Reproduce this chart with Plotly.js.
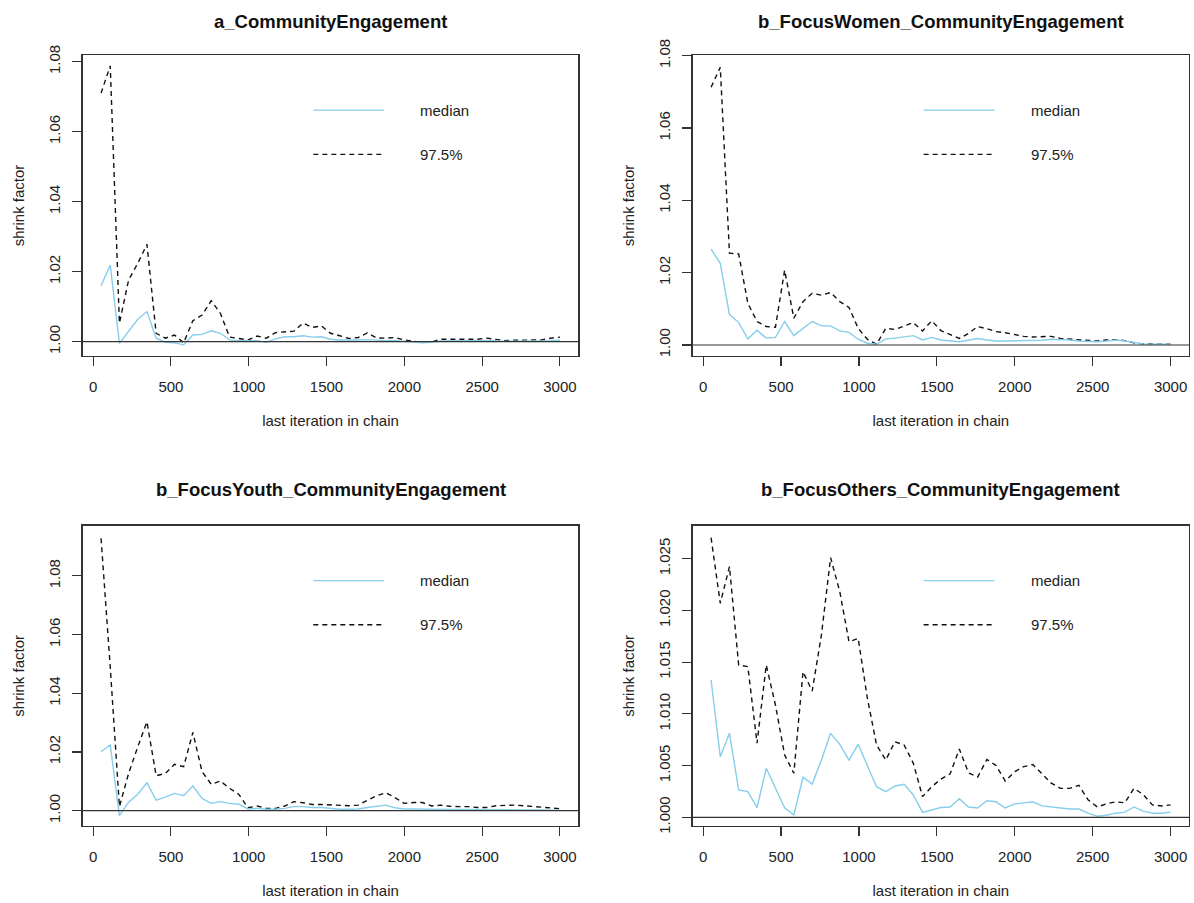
<!DOCTYPE html>
<html>
<head>
<meta charset="utf-8">
<script src="https://cdn.plot.ly/plotly-3.0.1.min.js"></script>
<style>html,body{margin:0;padding:0;background:#fff;}#chart{width:1194px;height:903px;}</style>
</head>
<body>
<div id="chart"></div>
<script>
const iterations = [51,110,169,228,287,346,405,464,523,582,641,700,759,818,877,936,995,1054,1113,1172,1231,1290,1349,1408,1467,1526,1585,1644,1703,1762,1821,1880,1939,1998,2057,2116,2175,2234,2293,2352,2411,2470,2529,2588,2647,2706,2765,2824,2883,2942,3000];

const panelTitles = ["a_CommunityEngagement","b_FocusWomen_CommunityEngagement","b_FocusYouth_CommunityEngagement","b_FocusOthers_CommunityEngagement"];
const legendLabels = ["median","97.5%"];
const xTickVals = [0,500,1000,1500,2000,2500,3000];
const yTicksWide = [1.00,1.02,1.04,1.06,1.08];
const yTicksNarrow = [1.000,1.005,1.010,1.015,1.020,1.025];

const medianA = [1.0160,1.0219,0.9995,1.0029,1.0064,1.0086,1.0010,0.9998,0.9997,0.9991,1.0019,1.0021,1.0031,1.0024,1.0005,1.0003,1.0003,1.0003,0.9998,1.0008,1.0014,1.0014,1.0017,1.0013,1.0014,1.0007,1.0005,1.0004,1.0005,1.0006,1.0004,1.0003,1.0003,1.0000,0.9999,0.9997,0.9998,1.0002,1.0003,1.0003,1.0003,1.0003,1.0004,1.0003,1.0001,1.0001,1.0001,1.0001,1.0002,1.0003,1.0004];
const upperA = [1.0710,1.0788,1.0053,1.0176,1.0224,1.0278,1.0024,1.0010,1.0019,0.9997,1.0060,1.0076,1.0117,1.0081,1.0013,1.0010,1.0005,1.0016,1.0010,1.0026,1.0027,1.0030,1.0053,1.0041,1.0045,1.0024,1.0017,1.0009,1.0012,1.0025,1.0011,1.0010,1.0012,1.0005,1.0001,0.9998,0.9999,1.0007,1.0007,1.0007,1.0008,1.0007,1.0010,1.0007,1.0003,1.0004,1.0004,1.0004,1.0005,1.0010,1.0013];

const medianWomen = [1.0265,1.0226,1.0085,1.0062,1.0017,1.0041,1.0019,1.0021,1.0065,1.0026,1.0046,1.0065,1.0053,1.0053,1.0039,1.0035,1.0016,1.0005,1.0002,1.0017,1.0019,1.0023,1.0026,1.0014,1.0021,1.0014,1.0011,1.0009,1.0013,1.0018,1.0014,1.0011,1.0011,1.0011,1.0011,1.0011,1.0013,1.0016,1.0016,1.0014,1.0011,1.0009,1.0009,1.0011,1.0014,1.0011,1.0007,1.0003,1.0002,1.0002,1.0002];
const upperWomen = [1.0713,1.0768,1.0254,1.0252,1.0115,1.0065,1.0051,1.0049,1.0207,1.0074,1.0120,1.0143,1.0138,1.0145,1.0120,1.0104,1.0046,1.0016,1.0002,1.0046,1.0043,1.0053,1.0062,1.0039,1.0067,1.0040,1.0028,1.0018,1.0032,1.0051,1.0045,1.0037,1.0034,1.0028,1.0024,1.0022,1.0023,1.0024,1.0018,1.0016,1.0014,1.0011,1.0011,1.0014,1.0015,1.0012,1.0006,1.0003,1.0002,1.0002,1.0002];

const medianYouth = [1.0201,1.0224,0.9983,1.0029,1.0056,1.0095,1.0036,1.0046,1.0059,1.0051,1.0085,1.0042,1.0025,1.0031,1.0025,1.0022,1.0006,1.0008,1.0005,1.0005,1.0008,1.0014,1.0014,1.0011,1.0011,1.0008,1.0005,1.0005,1.0006,1.0011,1.0016,1.0019,1.0010,1.0006,1.0006,1.0005,1.0005,1.0005,1.0004,1.0004,1.0004,1.0003,1.0003,1.0004,1.0005,1.0005,1.0004,1.0003,1.0003,1.0002,1.0002];
const upperYouth = [1.0928,1.0490,1.0014,1.0127,1.0218,1.0303,1.0119,1.0127,1.0158,1.0150,1.0267,1.0133,1.0090,1.0101,1.0076,1.0056,1.0010,1.0016,1.0008,1.0008,1.0016,1.0031,1.0027,1.0021,1.0021,1.0020,1.0019,1.0017,1.0019,1.0034,1.0051,1.0061,1.0045,1.0025,1.0028,1.0028,1.0016,1.0019,1.0015,1.0014,1.0014,1.0011,1.0011,1.0017,1.0019,1.0019,1.0017,1.0014,1.0011,1.0010,1.0007];

const medianOthers = [1.01328,1.00586,1.00812,1.00264,1.00248,1.00093,1.00474,1.00280,1.00093,1.00022,1.00387,1.00322,1.00554,1.00812,1.00706,1.00554,1.00706,1.00499,1.00296,1.00248,1.00303,1.00319,1.00216,1.00048,1.00070,1.00095,1.00100,1.00180,1.00100,1.00090,1.00160,1.00150,1.00090,1.00130,1.00140,1.00150,1.00110,1.00100,1.00090,1.00080,1.00080,1.00040,1.00010,1.00020,1.00040,1.00050,1.00100,1.00060,1.00040,1.00040,1.00050];
const upperOthers = [1.02704,1.02070,1.02424,1.01473,1.01457,1.00716,1.01473,1.01086,1.00603,1.00426,1.01408,1.01221,1.01763,1.02511,1.02182,1.01698,1.01731,1.01151,1.00699,1.00554,1.00731,1.00699,1.00522,1.00200,1.00296,1.00370,1.00420,1.00660,1.00430,1.00390,1.00560,1.00500,1.00350,1.00440,1.00490,1.00510,1.00420,1.00330,1.00280,1.00280,1.00310,1.00170,1.00100,1.00130,1.00150,1.00140,1.00280,1.00220,1.00120,1.00110,1.00120];

const panels = [
  {med: medianA, up: upperA, yr: [0.99591, 1.0819], ticks: yTicksWide, fmt: ".2f"},
  {med: medianWomen, up: upperWomen, yr: [0.99696, 1.0802], ticks: yTicksWide, fmt: ".2f"},
  {med: medianYouth, up: upperYouth, yr: [0.99479, 1.0971], ticks: yTicksWide, fmt: ".2f"},
  {med: medianOthers, up: upperOthers, yr: [0.99916, 1.0282], ticks: yTicksNarrow, fmt: ".3f"}
];

const W = 1194, H = 903;
const colL = [82.7/W, 578.3/W], colR = [692.7/W, 1189/W];
const rowT = [1-356/H, 1-55/H], rowB = [1-826/H, 1-525.7/H];
const doms = [[colL,rowT],[colR,rowT],[colL,rowB],[colR,rowB]];
const titleY = [1-21/H, 1-21/H, 1-490/H, 1-490/H];

const FONT = "Liberation Sans, Arial, Helvetica, sans-serif";
const medColor = "#87CEEB";
const traces = [], shapes = [], annotations = [];
const layout = {
  width: W, height: H, autosize: false,
  margin: {l:0, r:0, t:0, b:0},
  paper_bgcolor: "#fff", plot_bgcolor: "#fff",
  showlegend: false,
  font: {family: FONT, size: 15, color: "#222"}
};

panels.forEach((p, i) => {
  const n = i === 0 ? "" : String(i+1);
  const xa = "x"+n, ya = "y"+n;
  traces.push({x: iterations, y: p.up, xaxis: xa, yaxis: ya, type: "scatter", mode: "lines",
    name: legendLabels[1], line: {color: "#111", width: 1.4, dash: "5px,4px"}});
  traces.push({x: iterations, y: p.med, xaxis: xa, yaxis: ya, type: "scatter", mode: "lines",
    name: legendLabels[0], line: {color: medColor, width: 1.4}});
  const axCommon = {showgrid: false, zeroline: false, showline: true, mirror: true,
    linecolor: "#333", linewidth: 1.3, ticks: "outside", ticklen: 9, tickwidth: 1.1, tickcolor: "#333",
    tickfont: {family: FONT, size: 15, color: "#222"}, fixedrange: true};
  layout["xaxis"+n] = Object.assign({}, axCommon, {
    domain: doms[i][0], anchor: ya, range: [-66.96, 3117.96],
    tickmode: "array", tickvals: xTickVals, ticklabelstandoff: 8,
    title: {text: "last iteration in chain", font: {family: FONT, size: 15, color: "#222"}, standoff: 21}
  });
  layout["yaxis"+n] = Object.assign({}, axCommon, {
    domain: doms[i][1], anchor: xa, range: p.yr,
    tickmode: "array", tickvals: p.ticks, tickformat: p.fmt, tickangle: -90, ticklabelstandoff: 6,
    title: {text: "shrink factor", font: {family: FONT, size: 15, color: "#222"}, standoff: 18}
  });
  shapes.push({type: "line", xref: xa+" domain", yref: ya, x0: 0, x1: 1, y0: 1, y1: 1,
    line: {color: "#333", width: 1.2}});
  shapes.push({type: "line", xref: xa+" domain", yref: ya+" domain", x0: 0.4653, x1: 0.608, y0: 0.817, y1: 0.817,
    line: {color: medColor, width: 1.4}});
  shapes.push({type: "line", xref: xa+" domain", yref: ya+" domain", x0: 0.4653, x1: 0.608, y0: 0.670, y1: 0.670,
    line: {color: "#111", width: 1.4, dash: "5px,4px"}});
  annotations.push({xref: xa+" domain", yref: ya+" domain", x: 0.677, y: 0.817, xanchor: "left", yanchor: "middle",
    text: legendLabels[0], showarrow: false, font: {family: FONT, size: 15, color: "#222"}});
  annotations.push({xref: xa+" domain", yref: ya+" domain", x: 0.677, y: 0.670, xanchor: "left", yanchor: "middle",
    text: legendLabels[1], showarrow: false, font: {family: FONT, size: 15, color: "#222"}});
  annotations.push({xref: xa+" domain", yref: "paper", x: 0.5, y: titleY[i], xanchor: "center", yanchor: "middle",
    text: "<b>"+panelTitles[i]+"</b>", showarrow: false, font: {family: FONT, size: 18.5, color: "#111"}});
});
layout.shapes = shapes;
layout.annotations = annotations;
Plotly.newPlot("chart", traces, layout, {displayModeBar: false, staticPlot: true});
</script>
</body>
</html>
